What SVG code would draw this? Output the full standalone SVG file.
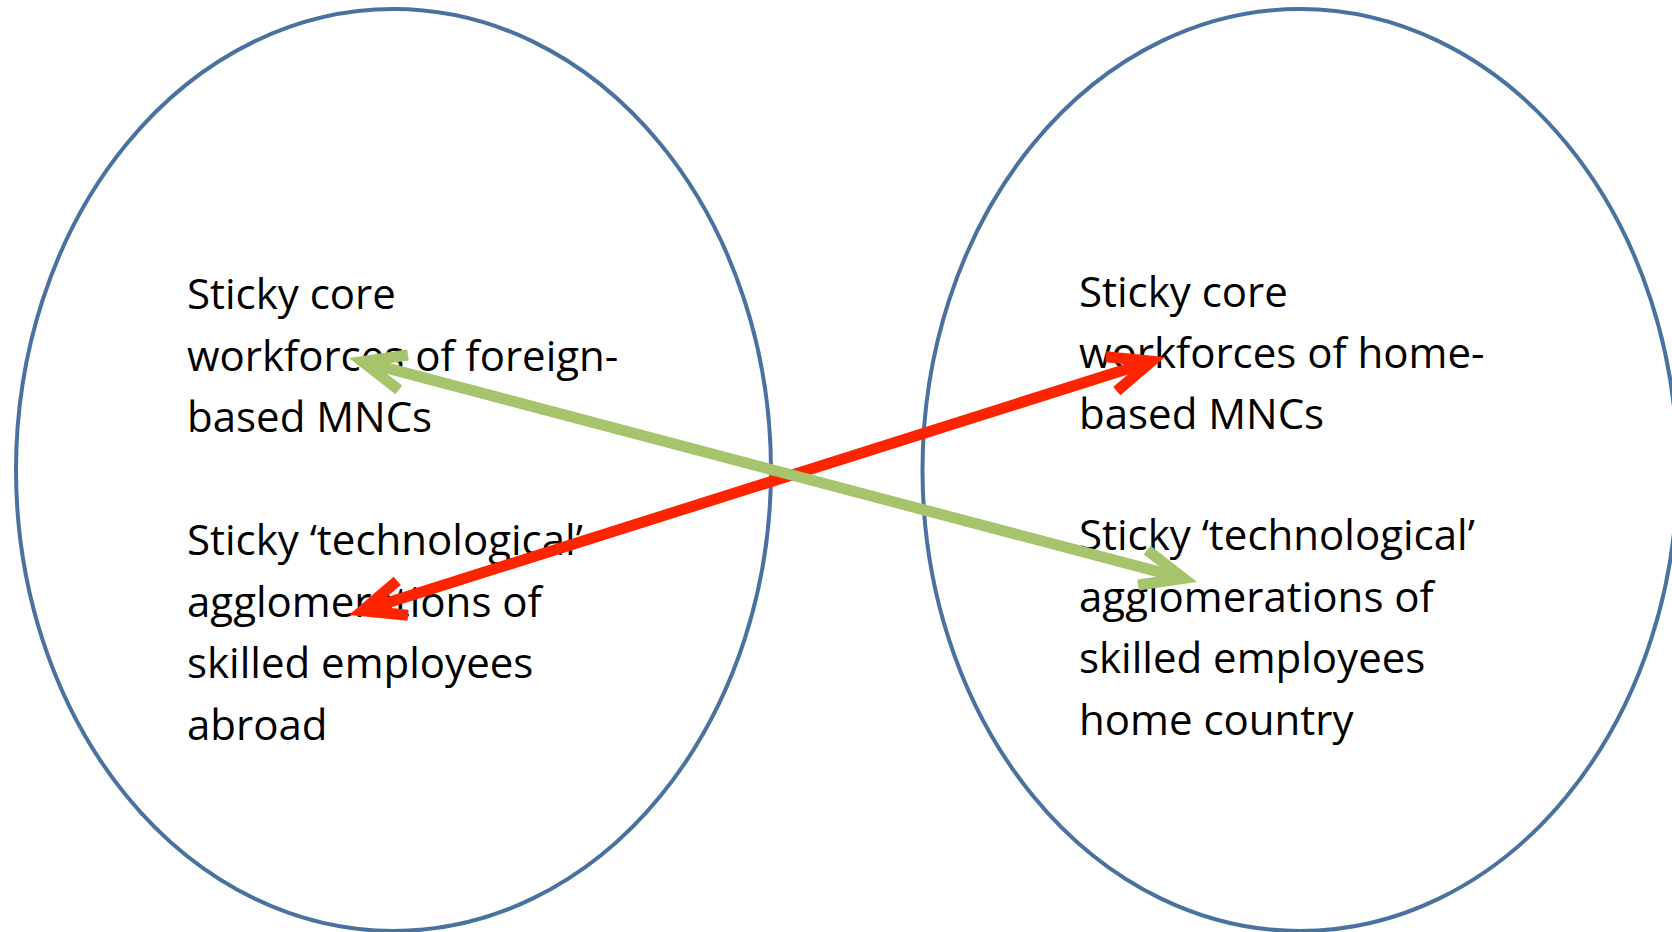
<svg xmlns="http://www.w3.org/2000/svg" width="1672" height="932" viewBox="0 0 1672 932">
  <style>
    .ring { fill: none; stroke: #4A72A0; stroke-width: 4; }
    .label { font-family: "Open Sans", "Noto Sans", "Liberation Sans", sans-serif; font-size: 42px; fill: #000000; }
    .link { fill: none; stroke-width: 11; stroke-linecap: butt; }
    .green { stroke: #A6C46C; }
    .red { stroke: #FF2400; }
  </style>
  <defs>
    <!-- open V-shaped arrowheads, drawn in user space so both ends match -->
    <marker id="openGreen" markerUnits="userSpaceOnUse" viewBox="-60 -30 90 60" refX="0" refY="0" markerWidth="90" markerHeight="60" orient="auto-start-reverse" overflow="visible">
      <path d="M -42.3 -18 L 0 0 L -42.3 18" fill="none" stroke="#A6C46C" stroke-width="11" stroke-linejoin="miter" stroke-miterlimit="10"/>
    </marker>
    <marker id="openRed" markerUnits="userSpaceOnUse" viewBox="-60 -30 90 60" refX="0" refY="0" markerWidth="90" markerHeight="60" orient="auto-start-reverse" overflow="visible">
      <path d="M -42.3 -18 L 0 0 L -42.3 18" fill="none" stroke="#FF2400" stroke-width="11" stroke-linejoin="miter" stroke-miterlimit="10"/>
    </marker>
  </defs>

  <rect x="0" y="0" width="1672" height="932" fill="#FFFFFF"/>

  <!-- abroad cluster -->
  <g id="abroad">
    <ellipse class="ring" cx="393.5" cy="470" rx="377.5" ry="461"/>
    <text class="label" x="187" y="309">Sticky core</text>
    <text class="label" x="187" y="370.5">workforces of foreign-</text>
    <text class="label" x="187" y="432">based MNCs</text>
    <text class="label" x="187" y="555">Sticky ‘technological’</text>
    <text class="label" x="187" y="616.5">agglomerations of</text>
    <text class="label" x="187" y="678">skilled employees</text>
    <text class="label" x="187" y="739.5">abroad</text>
  </g>

  <!-- home-country cluster -->
  <g id="home">
    <ellipse class="ring" cx="1300" cy="470" rx="377.5" ry="461"/>
    <text class="label" x="1079" y="306.5">Sticky core</text>
    <text class="label" x="1079" y="367.5">workforces of home-</text>
    <text class="label" x="1079" y="429">based MNCs</text>
    <text class="label" x="1079" y="550">Sticky ‘technological’</text>
    <text class="label" x="1079" y="611.5">agglomerations of</text>
    <text class="label" x="1079" y="673">skilled employees</text>
    <text class="label" x="1079" y="734.5">home country</text>
  </g>

  <!-- two-way links between the clusters -->
  <g id="connectors">
    <line class="link red" x1="362.3" y1="610.8" x2="1151.7" y2="361.2" marker-start="url(#openRed)" marker-end="url(#openRed)"/>
    <line class="link green" x1="362.5" y1="361.6" x2="1183.5" y2="578.4" marker-start="url(#openGreen)" marker-end="url(#openGreen)"/>
  </g>
</svg>
